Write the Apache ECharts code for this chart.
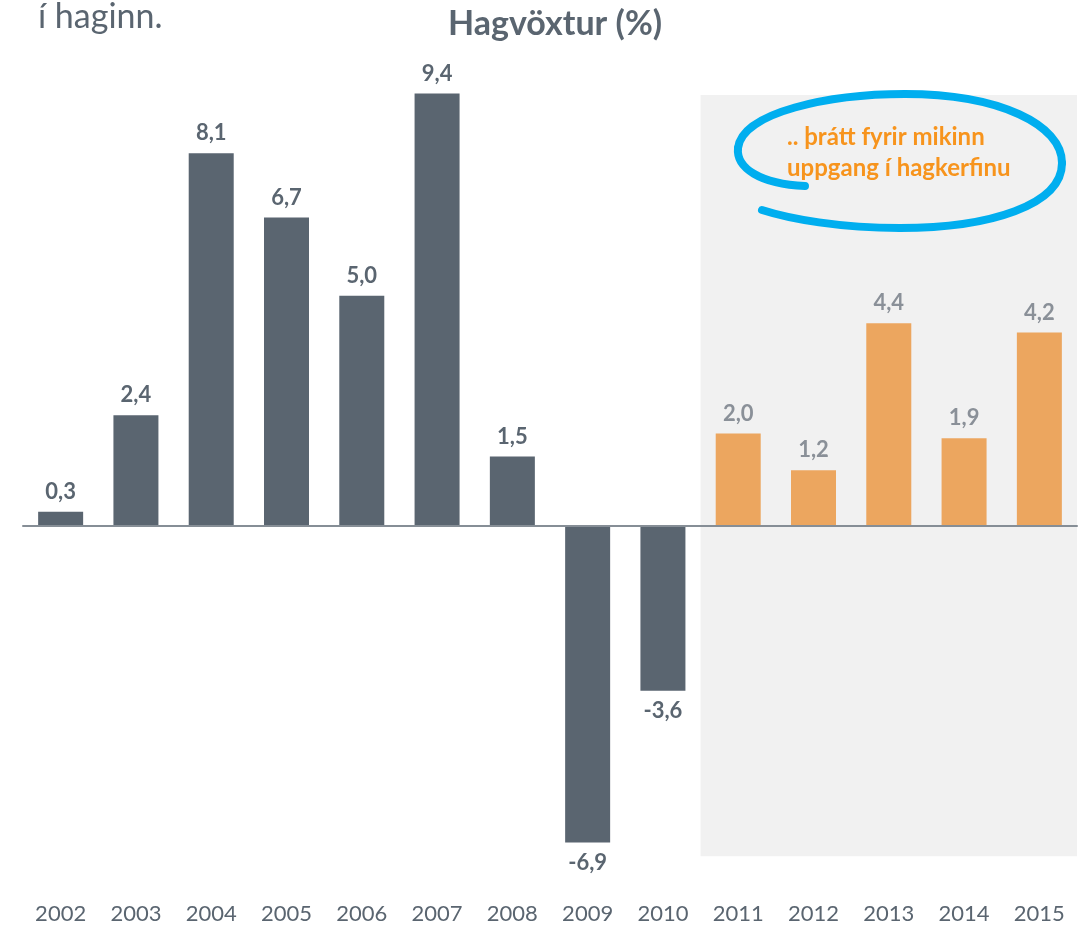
<!DOCTYPE html>
<html>
<head>
<meta charset="utf-8">
<script src="https://cdn.jsdelivr.net/npm/echarts@6/dist/echarts.min.js"></script>
<style>html,body{margin:0;padding:0;background:#fff}#c{width:1089px;height:925px}</style>
</head>
<body>
<div id="c"></div>
<script>
const years = ['2002','2003','2004','2005','2006','2007','2008','2009','2010','2011','2012','2013','2014','2015'];
const growth = [0.3, 2.4, 8.1, 6.7, 5.0, 9.4, 1.5, -6.9, -3.6, 2.0, 1.2, 4.4, 1.9, 4.2];
const highlightFrom = '2011';
const highlightTo = '2015';
const titleText = 'Hagvöxtur (%)';
const cornerText = 'í haginn.';
const noteLines = ['.. þrátt fyrir mikinn', 'uppgang í hagkerfinu'];

const GRAY = '#5a6570';
const ORANGE = '#eca65f';
const FONT = 'Lato, "Open Sans", sans-serif';
const hiIdx = years.indexOf(highlightFrom);

// spiral annotation stroke, as bezier segments [x1,y1,cp1x,cp1y,cp2x,cp2y,x2,y2]
const strokeSegs = [
  [805,186, 760,184, 736,168, 738,148],
  [738,148, 742,112, 830,94, 905,94],
  [905,94, 1000,94, 1062,125, 1062,163],
  [1062,163, 1062,205, 990,228, 900,228],
  [900,228, 840,228, 790,219, 762,210]
];

const chart = echarts.init(document.getElementById('c'), null, {renderer: 'canvas'});
chart.setOption({
  animation: false,
  backgroundColor: '#ffffff',
  title: {
    text: titleText, left: 550, top: 2, textAlign: 'center',
    textStyle: {fontFamily: FONT, fontSize: 34, fontWeight: 'bold', color: GRAY}
  },
  grid: {left: 23, right: 12, top: 66, bottom: 31, containLabel: false},
  xAxis: [
    {type: 'category', data: years, z: 5, axisLine: {onZero: true, lineStyle: {color: '#868e96', width: 2}},
     axisTick: {show: false}, axisLabel: {show: false}},
    {type: 'category', data: years, position: 'bottom', axisLine: {show: false, onZero: false},
     axisTick: {show: false},
     axisLabel: {margin: 10, fontFamily: FONT, fontSize: 22, color: GRAY}}
  ],
  yAxis: {type: 'value', min: -8, max: 10, show: false, splitLine: {show: false}},
  series: [{
    type: 'bar', xAxisIndex: 0, barWidth: 45,
    data: growth.map((v, i) => ({
      value: v,
      itemStyle: {color: i >= hiIdx ? ORANGE : GRAY},
      label: {color: i >= hiIdx ? '#8a9098' : GRAY}
    })),
    label: {
      show: true, position: 'outside', distance: 9,
      fontFamily: FONT, fontSize: 22, fontWeight: 'bold',
      formatter: p => p.value.toFixed(1).replace('.', ',')
    },
    markArea: {
      silent: true,
      itemStyle: {color: '#f1f1f1'},
      data: [[{xAxis: highlightFrom, yAxis: 9.37}, {xAxis: highlightTo, yAxis: -7.2}]]
    },
    z: 2
  }],
  graphic: [
    {type: 'text', left: 38, top: 0,
     style: {text: cornerText, font: '34px ' + FONT, fill: GRAY}}
  ].concat(strokeSegs.map(s => ({
    type: 'bezierCurve', z: 10,
    shape: {x1: s[0], y1: s[1], cpx1: s[2], cpy1: s[3], cpx2: s[4], cpy2: s[5], x2: s[6], y2: s[7]},
    style: {fill: null, stroke: '#00aeef', lineWidth: 8, lineCap: 'round'}
  }))).concat([
    {type: 'text', z: 11, left: 787, top: 122,
     style: {text: noteLines.join('\n'), font: 'bold 24px ' + FONT, fill: '#f7941d', lineHeight: 31}}
  ])
});
</script>
</body>
</html>
